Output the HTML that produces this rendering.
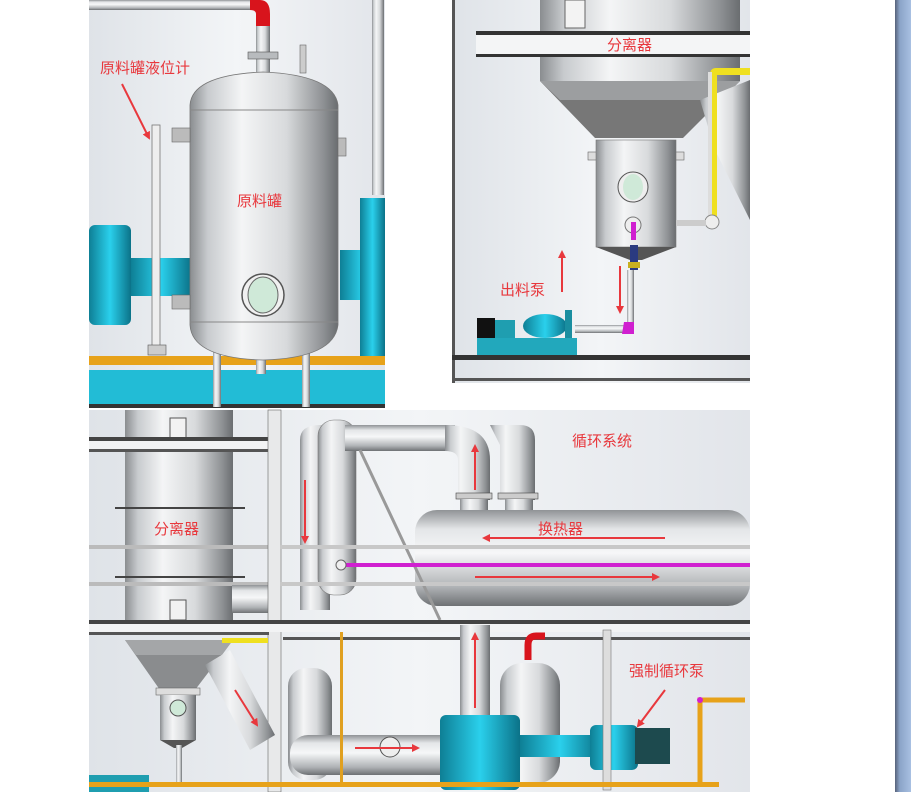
<!DOCTYPE html>
<html><head><meta charset="utf-8"><style>
html,body{margin:0;padding:0;background:#fff;width:911px;height:792px;overflow:hidden}
svg{display:block}
text{font-family:"Liberation Sans","Noto Sans CJK SC",sans-serif;fill:#e8383d;font-size:15px}
</style></head><body>
<svg width="911" height="792" viewBox="0 0 911 792" xmlns="http://www.w3.org/2000/svg">
<defs>
<linearGradient id="cyl" x1="0" x2="1" y1="0" y2="0">
<stop offset="0" stop-color="#8a8d90"/><stop offset=".12" stop-color="#c8cbce"/><stop offset=".35" stop-color="#f4f5f6"/><stop offset=".65" stop-color="#d8dadc"/><stop offset=".9" stop-color="#8e9194"/><stop offset="1" stop-color="#6a6d70"/></linearGradient>
<linearGradient id="hcyl" x1="0" x2="0" y1="0" y2="1">
<stop offset="0" stop-color="#909396"/><stop offset=".2" stop-color="#e4e6e8"/><stop offset=".45" stop-color="#f6f7f8"/><stop offset=".8" stop-color="#b0b3b6"/><stop offset="1" stop-color="#6e7174"/></linearGradient>
<linearGradient id="cyan" x1="0" x2="1"><stop offset="0" stop-color="#0e7f95"/><stop offset=".5" stop-color="#2ad0ec"/><stop offset="1" stop-color="#0b7288"/></linearGradient>
<linearGradient id="bg" x1="0" x2="1"><stop offset="0" stop-color="#dfe3e8"/><stop offset=".5" stop-color="#f3f5f7"/><stop offset="1" stop-color="#e2e5ea"/></linearGradient>
<linearGradient id="bar" x1="0" x2="1"><stop offset="0" stop-color="#56627a"/><stop offset=".3" stop-color="#8ba4c8"/><stop offset="1" stop-color="#a8c0e2"/></linearGradient>
<marker id="ar" markerWidth="8" markerHeight="8" refX="6" refY="4" orient="auto" markerUnits="userSpaceOnUse"><path d="M0,0 L8,4 L0,8z" fill="#e8383d"/></marker>
</defs>
<rect x="895" y="0" width="16" height="792" fill="url(#bar)"/>

<!-- LEFT PANEL -->
<rect x="89" y="0" width="296" height="408" fill="url(#bg)"/>
<rect x="89" y="0" width="165" height="10" fill="url(#hcyl)"/>
<path d="M250,0 h10 q10,0 10,14 v14 h-14 v-14 q0,-4 -6,-4z" fill="#d8141c"/>
<rect x="256" y="26" width="14" height="50" fill="url(#cyl)"/>
<rect x="248" y="52" width="30" height="7" fill="#b8bbbe" stroke="#555" stroke-width=".6"/>
<rect x="372" y="0" width="12" height="195" fill="url(#cyl)"/>
<!-- cyan equipment -->
<rect x="89" y="225" width="42" height="100" rx="6" fill="url(#cyan)"/>
<rect x="131" y="258" width="60" height="38" fill="url(#cyan)"/>
<rect x="340" y="250" width="45" height="50" fill="url(#cyan)"/>
<rect x="360" y="198" width="25" height="165" fill="url(#cyan)"/>
<rect x="89" y="356" width="296" height="9" fill="#e7a21a"/>
<rect x="89" y="370" width="296" height="38" fill="#22bcd6"/>
<rect x="89" y="404" width="296" height="4" fill="#333"/>
<!-- legs -->
<rect x="213" y="335" width="8" height="72" fill="url(#cyl)"/>
<rect x="302" y="335" width="8" height="72" fill="url(#cyl)"/>
<rect x="256" y="360" width="10" height="14" fill="url(#cyl)"/>
<!-- tank -->
<path d="M190,105 Q192,75 263,72 Q334,75 338,105 V325 Q334,358 263,360 Q192,358 190,325Z" fill="url(#cyl)" stroke="#777" stroke-width=".8"/>
<line x1="190" y1="110" x2="338" y2="110" stroke="#888"/>
<line x1="190" y1="322" x2="338" y2="322" stroke="#888"/>
<circle cx="263" cy="295" r="21" fill="#f0f0f0" stroke="#555" stroke-width="1.5"/>
<ellipse cx="263" cy="295" rx="15" ry="18" fill="#cfe9d8" stroke="#666"/>
<rect x="338" y="138" width="8" height="18" fill="#bbb" stroke="#666" stroke-width=".6"/>
<rect x="172" y="128" width="18" height="14" fill="#bbb" stroke="#666" stroke-width=".6"/>
<rect x="172" y="295" width="18" height="14" fill="#bbb" stroke="#666" stroke-width=".6"/>
<rect x="152" y="125" width="8" height="222" fill="#eee" stroke="#777" stroke-width=".8"/>
<rect x="148" y="345" width="18" height="10" fill="#ccc" stroke="#555" stroke-width=".6"/>
<rect x="300" y="45" width="6" height="28" fill="#ccc" stroke="#666" stroke-width=".6"/>
<text x="100" y="73">原料罐液位计</text>
<line x1="122" y1="84" x2="149" y2="138" stroke="#e8383d" stroke-width="2" marker-end="url(#ar)"/>
<text x="237" y="206">原料罐</text>

<!-- TOP RIGHT PANEL -->
<rect x="452" y="0" width="298" height="383" fill="url(#bg)"/>
<rect x="452" y="0" width="3" height="383" fill="#555"/>
<rect x="540" y="0" width="200" height="33" fill="url(#cyl)"/>
<rect x="565" y="0" width="20" height="28" fill="#f3f3f3" stroke="#666"/>
<rect x="476" y="31" width="274" height="4" fill="#333"/>
<rect x="476" y="35" width="274" height="20" fill="#f4f5f6"/>
<rect x="476" y="54" width="274" height="3" fill="#333"/>
<rect x="540" y="57" width="200" height="24" fill="url(#cyl)"/>
<path d="M540,81 H740 L683,138 H595Z" fill="#777"/>
<path d="M540,81 H740 L720,100 H560Z" fill="#9c9ea0"/>
<path d="M700,100 L750,80 V220 L715,150Z" fill="url(#cyl)"/>
<rect x="588" y="152" width="96" height="8" fill="#ddd" stroke="#666" stroke-width=".6"/>
<rect x="596" y="140" width="80" height="107" fill="url(#cyl)" stroke="#777" stroke-width=".6"/>
<path d="M596,247 H676 L642,260 H630Z" fill="#555"/>
<circle cx="633" cy="187" r="15" fill="#eee" stroke="#555"/>
<ellipse cx="633" cy="187" rx="10" ry="13" fill="#cfe9d8"/>
<circle cx="633" cy="225" r="8" fill="#eee" stroke="#777"/>
<path d="M712,68 H750 V75 H717 V222 H710 V75 Q710,68 716,68Z" fill="#efe020"/>
<rect x="708" y="72" width="4" height="150" fill="#ddd"/>
<circle cx="712" cy="222" r="7" fill="#eee" stroke="#888"/>
<rect x="676" y="220" width="30" height="6" fill="#ccc"/>
<rect x="631" y="222" width="5" height="18" fill="#d020d0"/>
<rect x="630" y="245" width="8" height="25" fill="#2a3a80"/>
<rect x="628" y="262" width="12" height="6" fill="#c8b020"/>
<rect x="627" y="270" width="7" height="60" fill="url(#cyl)"/>
<rect x="575" y="325" width="55" height="8" fill="url(#hcyl)"/>
<path d="M624,322 h10 v12 h-12 z" fill="#d020d0"/>
<rect x="477" y="318" width="18" height="20" fill="#111"/>
<rect x="495" y="320" width="20" height="18" fill="#1f9eb0"/>
<ellipse cx="545" cy="326" rx="22" ry="12" fill="url(#cyan)"/>
<rect x="565" y="310" width="7" height="32" fill="#1a8ea0"/>
<rect x="477" y="338" width="100" height="18" fill="#22a8bc"/>
<rect x="452" y="355" width="298" height="5" fill="#333"/>
<rect x="452" y="378" width="298" height="3" fill="#555"/>
<text x="607" y="50">分离器</text>
<text x="500" y="295">出料泵</text>
<line x1="562" y1="292" x2="562" y2="252" stroke="#e8383d" stroke-width="2" marker-end="url(#ar)"/>
<line x1="620" y1="266" x2="620" y2="312" stroke="#e8383d" stroke-width="2" marker-end="url(#ar)"/>

<!-- BOTTOM PANEL -->
<rect x="89" y="410" width="661" height="382" fill="url(#bg)"/>
<rect x="125" y="410" width="108" height="222" fill="url(#cyl)"/>
<rect x="170" y="418" width="16" height="20" fill="#f2f2f2" stroke="#555"/>
<rect x="170" y="600" width="16" height="20" fill="#f2f2f2" stroke="#555"/>
<line x1="115" y1="508" x2="245" y2="508" stroke="#444" stroke-width="2"/>
<line x1="115" y1="577" x2="245" y2="577" stroke="#444" stroke-width="2"/>
<rect x="89" y="437" width="190" height="4" fill="#444"/>
<rect x="89" y="441" width="190" height="8" fill="#f2f3f4"/>
<rect x="89" y="449" width="190" height="3" fill="#555"/>
<rect x="89" y="545" width="661" height="4" fill="#bbb"/>
<rect x="89" y="582" width="661" height="4" fill="#bbb"/>
<rect x="232" y="585" width="40" height="28" fill="url(#hcyl)"/>
<path d="M300,440 Q300,425 320,425 H330 V610 H300Z" fill="url(#cyl)"/>
<rect x="318" y="420" width="38" height="175" rx="16" fill="url(#cyl)" stroke="#777" stroke-width=".6"/>
<rect x="345" y="425" width="110" height="26" fill="url(#hcyl)"/>
<path d="M445,425 Q490,425 490,460 V500 H458 V460 Q458,451 445,451Z" fill="url(#cyl)"/>
<path d="M490,425 H520 Q535,425 535,440 V500 H500 V445Z" fill="url(#cyl)"/>
<rect x="456" y="493" width="36" height="6" fill="#ccc" stroke="#444" stroke-width=".6"/>
<rect x="498" y="493" width="40" height="6" fill="#ccc" stroke="#444" stroke-width=".6"/>
<rect x="460" y="499" width="28" height="14" fill="url(#cyl)"/>
<rect x="505" y="499" width="28" height="14" fill="url(#cyl)"/>
<rect x="415" y="510" width="335" height="96" rx="22" fill="url(#hcyl)"/>
<rect x="268" y="410" width="13" height="382" fill="#e8e9ea" stroke="#666" stroke-width=".6"/>
<line x1="360" y1="450" x2="440" y2="620" stroke="#999" stroke-width="3"/>
<rect x="89" y="620" width="661" height="4" fill="#444"/>
<rect x="89" y="624" width="661" height="8" fill="#f2f3f4"/>
<rect x="89" y="632" width="180" height="3" fill="#555"/>
<rect x="283" y="637" width="467" height="3" fill="#555"/>
<rect x="280" y="545" width="470" height="4" fill="#c8c8c8"/>
<rect x="280" y="582" width="470" height="4" fill="#c8c8c8"/>
<line x1="342" y1="565" x2="750" y2="565" stroke="#d020d0" stroke-width="4"/>
<circle cx="341" cy="565" r="5" fill="#eee" stroke="#666"/>
<!-- separator lower -->
<path d="M125,640 H233 L195,690 H160Z" fill="#8a8c8e"/>
<path d="M125,640 H233 L222,655 H136Z" fill="#a4a6a8"/>
<rect x="156" y="688" width="44" height="7" fill="#ddd" stroke="#666" stroke-width=".6"/>
<rect x="160" y="695" width="36" height="45" fill="url(#cyl)"/>
<circle cx="178" cy="708" r="8" fill="#cfe9d8" stroke="#555"/>
<path d="M160,740 H196 L182,748 H174Z" fill="#555"/>
<rect x="176" y="745" width="6" height="40" fill="url(#cyl)"/>
<path d="M205,665 L230,650 L275,735 L250,750Z" fill="url(#cyl)"/>
<rect x="222" y="638" width="46" height="5" fill="#efe020"/>
<rect x="89" y="775" width="60" height="17" fill="#1f9eb0"/>
<!-- lower area -->
<rect x="288" y="668" width="44" height="112" rx="18" fill="url(#cyl)"/>
<rect x="290" y="735" width="170" height="40" rx="18" fill="url(#hcyl)"/>
<circle cx="390" cy="747" r="10" fill="#eee" stroke="#555"/>
<rect x="460" y="625" width="30" height="100" fill="url(#cyl)"/>
<rect x="500" y="663" width="60" height="120" rx="22" fill="url(#cyl)"/>
<path d="M528,660 V645 Q528,636 536,636 H545" stroke="#d8141c" stroke-width="7" fill="none"/>
<rect x="340" y="632" width="3" height="150" fill="#e0a020"/>
<rect x="440" y="715" width="80" height="75" rx="6" fill="url(#cyan)"/>
<rect x="520" y="735" width="80" height="22" fill="url(#cyan)"/>
<rect x="590" y="725" width="48" height="45" rx="6" fill="url(#cyan)"/>
<rect x="635" y="728" width="35" height="36" fill="#1d4a4e"/>
<rect x="603" y="630" width="8" height="160" fill="#ddd" stroke="#777" stroke-width=".6"/>
<rect x="89" y="782" width="630" height="5" fill="#e7a21a"/>
<path d="M700,785 V700 H745" stroke="#e7a21a" stroke-width="5" fill="none"/>
<circle cx="700" cy="700" r="3" fill="#d020d0"/>
<text x="572" y="446">循环系统</text>
<text x="538" y="534">换热器</text>
<text x="154" y="534">分离器</text>
<text x="629" y="676">强制循环泵</text>
<line x1="665" y1="538" x2="484" y2="538" stroke="#e8383d" stroke-width="2" marker-end="url(#ar)"/>
<line x1="475" y1="577" x2="658" y2="577" stroke="#e8383d" stroke-width="2" marker-end="url(#ar)"/>
<line x1="475" y1="490" x2="475" y2="446" stroke="#e8383d" stroke-width="2" marker-end="url(#ar)"/>
<line x1="305" y1="480" x2="305" y2="542" stroke="#e8383d" stroke-width="2" marker-end="url(#ar)"/>
<line x1="475" y1="708" x2="475" y2="634" stroke="#e8383d" stroke-width="2" marker-end="url(#ar)"/>
<line x1="235" y1="690" x2="257" y2="725" stroke="#e8383d" stroke-width="2" marker-end="url(#ar)"/>
<line x1="355" y1="748" x2="418" y2="748" stroke="#e8383d" stroke-width="2" marker-end="url(#ar)"/>
<line x1="665" y1="690" x2="638" y2="726" stroke="#e8383d" stroke-width="2" marker-end="url(#ar)"/>
</svg>
</body></html>
